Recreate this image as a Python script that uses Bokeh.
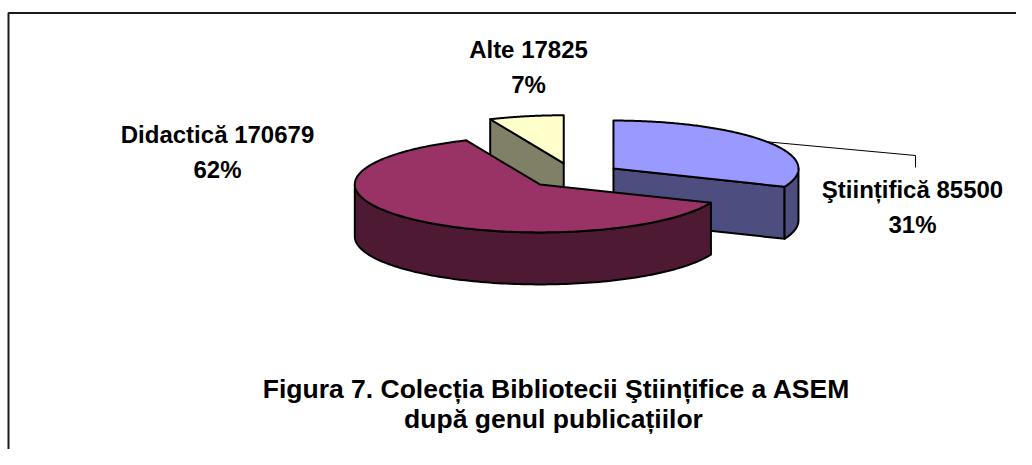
import numpy as np
from bokeh.plotting import figure
from bokeh.models import Range1d, ColumnDataSource
from bokeh.embed import file_html
from bokeh.resources import INLINE
from bokeh.core.properties import value

# ---------------- data ----------------
categories = ["Ştiințifică", "Didactică", "Alte"]
values = [85500, 170679, 17825]
top_colors = ["#9999FF", "#993366", "#FFFFCC"]
side_colors = ["#4D4D80", "#4D1933", "#808066"]
title_lines = ["Figura 7. Colecția Bibliotecii Ştiințifice a ASEM",
               "după genul publicațiilor"]

# ---------------- layout (page pixels) ----------------
CX, CY = 573, 175          # pie centre (top surface)
RX, RY = 185, 48           # ellipse radii
DEPTH = 52                 # 3D thickness
EXPLODE = 0.26             # explosion fraction
label_x = [912, 217, 528]
label_y = [189, 134, 49]
LINE_GAP = 35
FONT = "Liberation Sans"

total = float(sum(values))
fracs = [v / total for v in values]

W, H = 1016, 449
p = figure(width=W, height=H, x_range=Range1d(0, W), y_range=Range1d(H, 0),
           x_axis_type=None, y_axis_type=None, toolbar_location=None,
           output_backend="svg", min_border=0)
p.outline_line_color = None
p.background_fill_color = "white"
p.grid.visible = False

# chart area border (clipped on right/bottom like the reference)
p.line(x=[8, 8, 1200], y=[900, 12.5, 12.5], line_color="#1a1a1a", line_width=2)


def rim(cx, cy, th, dz=0.0):
    return cx + RX * np.cos(th), cy - RY * np.sin(th) + dz


slices = []
cum = 0.0
for i, f in enumerate(fracs):
    a_start = np.radians(90 - 360 * cum)
    a_end = np.radians(90 - 360 * (cum + f))
    cum += f
    mid = 0.5 * (a_start + a_end)
    ox = CX + EXPLODE * RX * np.cos(mid)
    oy = CY - EXPLODE * RY * np.sin(mid)
    slices.append(dict(i=i, a0=a_end, a1=a_start, mid=mid, cx=ox, cy=oy))

# painter's order: back (high sin) first
order = sorted(slices, key=lambda s: -np.sin(s["mid"]))

xs, ys, fills = [], [], []
for s in order:
    i, a0, a1, cx, cy = s["i"], s["a0"], s["a1"], s["cx"], s["cy"]
    # radial faces
    for ang, vis in ((a0, np.cos(a0) > 1e-6), (a1, np.cos(a1) < -1e-6)):
        if vis:
            rx_, ry_ = rim(cx, cy, ang)
            xs.append([cx, rx_, rx_, cx])
            ys.append([cy, ry_, ry_ + DEPTH, cy + DEPTH])
            fills.append(side_colors[i])
    # outer wall (front half only)
    for k in range(-3, 3):
        lo = max(a0, np.pi + 2 * np.pi * k)
        hi = min(a1, 2 * np.pi + 2 * np.pi * k)
        if hi - lo > 1e-6:
            th = np.linspace(lo, hi, 120)
            tx, ty = rim(cx, cy, th)
            xs.append(list(tx) + list(tx[::-1]))
            ys.append(list(ty) + list((ty + DEPTH)[::-1]))
            fills.append(side_colors[i])
    # top surface
    th = np.linspace(a0, a1, 200)
    tx, ty = rim(cx, cy, th)
    xs.append([cx] + list(tx))
    ys.append([cy] + list(ty))
    fills.append(top_colors[i])

p.patches(xs="xs", ys="ys", fill_color="fill",
          source=ColumnDataSource(dict(xs=xs, ys=ys, fill=fills)),
          line_color="black", line_width=2, line_join="round")

# leader line for the first slice
s0 = slices[0]
lx, ly = rim(s0["cx"], s0["cy"], s0["mid"])
p.line(x=[lx, label_x[0] + 3, label_x[0] + 3], y=[ly, 155, 167],
       line_color="black", line_width=1)

# data labels
t_x, t_y, t_txt = [], [], []
for i, c in enumerate(categories):
    pct = int(round(100 * fracs[i]))
    t_x += [label_x[i], label_x[i]]
    t_y += [label_y[i], label_y[i] + LINE_GAP]
    t_txt += [f"{c} {values[i]}", f"{pct}%"]
p.text(x=t_x, y=t_y, text=t_txt, text_font=value(FONT), text_font_style="bold",
       text_font_size="24px", text_align="center", text_baseline="alphabetic",
       text_color="black")

# title (below the pie)
p.text(x=[556, 553], y=[388, 418], text=title_lines, text_font=value(FONT),
       text_font_style="bold", text_font_size="26.5px", text_align="center",
       text_baseline="alphabetic", text_color="black")

open("out.html", "w").write(file_html(p, INLINE))
